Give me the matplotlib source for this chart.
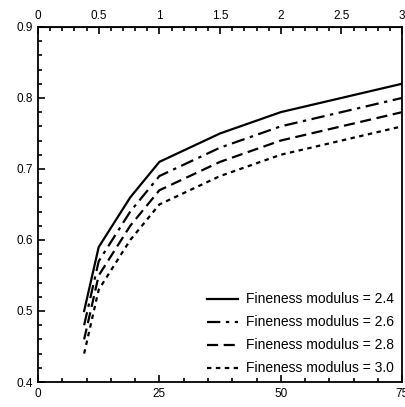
import matplotlib.pyplot as plt
from matplotlib.ticker import MultipleLocator

plt.rcParams['font.family'] = ['Liberation Sans', 'DejaVu Sans']

# maximum aggregate size (mm)
agg_size = [9.5, 12.5, 19, 25, 37.5, 50, 75]

# bulk volume of dry-rodded coarse aggregate per unit volume of concrete
fm_24 = [0.50, 0.59, 0.66, 0.71, 0.75, 0.78, 0.82]
fm_26 = [0.48, 0.57, 0.64, 0.69, 0.73, 0.76, 0.80]
fm_28 = [0.46, 0.55, 0.62, 0.67, 0.71, 0.74, 0.78]
fm_30 = [0.44, 0.53, 0.60, 0.65, 0.69, 0.72, 0.76]

labels = ['Fineness modulus = 2.4', 'Fineness modulus = 2.6',
          'Fineness modulus = 2.8', 'Fineness modulus = 3.0']

fig = plt.figure(figsize=(4.06, 4.07), dpi=100)
ax = fig.add_axes([0.0936, 0.0614, 0.897, 0.8725])

ax.plot(agg_size, fm_24, color='black', lw=1.6, ls='-', label=labels[0])
ax.plot(agg_size, fm_26, color='black', lw=1.6, ls=(0, (6, 2.5, 1.5, 2.5)), label=labels[1])
ax.plot(agg_size, fm_28, color='black', lw=1.6, ls=(0, (5, 2.5)), label=labels[2])
ax.plot(agg_size, fm_30, color='black', lw=1.6, ls=(0, (2, 2)), label=labels[3])

ax.set_xlim(0, 75)
ax.set_ylim(0.4, 0.9)
ax.xaxis.set_major_locator(MultipleLocator(25))
ax.xaxis.set_minor_locator(MultipleLocator(5))
ax.yaxis.set_major_locator(MultipleLocator(0.1))
ax.yaxis.set_minor_locator(MultipleLocator(0.02))
ax.tick_params(which='both', direction='in', labelsize=8.5, width=1.2)
ax.tick_params(which='major', length=5)
ax.tick_params(which='minor', length=3)
ax.tick_params(axis='x', pad=4)
for sp in ax.spines.values():
    sp.set_linewidth(1.3)

# inch scale on top
top = ax.secondary_xaxis('top', functions=(lambda x: x / 25, lambda x: x * 25))
top.xaxis.set_major_locator(MultipleLocator(0.5))
top.xaxis.set_minor_locator(MultipleLocator(0.1))
top.set_xticks([0, 0.5, 1, 1.5, 2, 2.5, 3])
top.set_xticklabels(['0', '0.5', '1', '1.5', '2', '2.5', '3'])
top.tick_params(which='both', direction='in', labelsize=8.5, width=1.2)
top.tick_params(which='major', length=5)
top.tick_params(which='minor', length=3)

ax.legend(loc='lower right', bbox_to_anchor=(1.0, -0.005), frameon=False,
          fontsize=10, handlelength=2.2, labelspacing=0.65, handletextpad=0.6,
          borderaxespad=0.2)

fig.savefig('out.png', dpi=100)
